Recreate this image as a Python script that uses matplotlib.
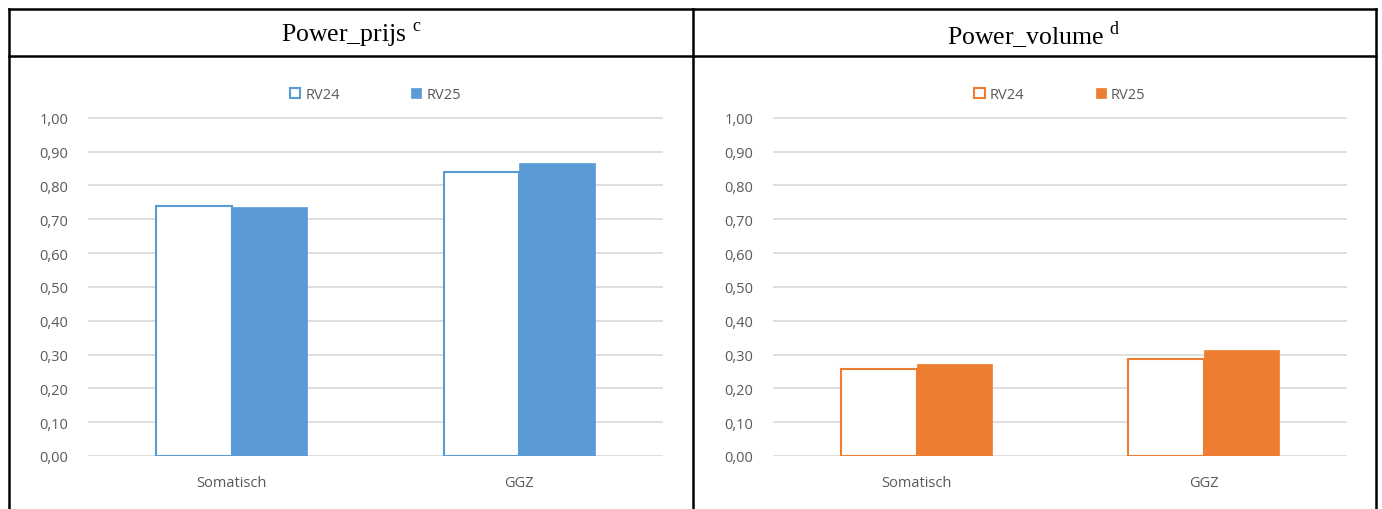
import matplotlib
matplotlib.use("Agg")
import matplotlib.pyplot as plt
from matplotlib.lines import Line2D
from matplotlib.ticker import FuncFormatter
import numpy as np

plt.rcParams['font.family'] = ['Open Sans', 'DejaVu Sans']
plt.rcParams['mathtext.fontset'] = 'custom'
plt.rcParams['mathtext.rm'] = 'Liberation Serif'

categories = ['Somatisch', 'GGZ']
series = ['RV24', 'RV25']
prijs_rv24 = [0.738, 0.838]
prijs_rv25 = [0.735, 0.865]
volume_rv24 = [0.256, 0.286]
volume_rv25 = [0.271, 0.313]
yticks = [0.0, 0.1, 0.2, 0.3, 0.4, 0.5, 0.6, 0.7, 0.8, 0.9, 1.0]

W, H = 1382, 510
fig = plt.figure(figsize=(W / 100, H / 100), dpi=100)


def px(x, y):
    # pixel (from top-left) to figure fraction
    return x / W, 1 - y / H


def draw_panel(rect, v24, v25, color):
    ax = fig.add_axes(rect)
    x = np.arange(len(categories))
    w = 0.262
    ax.bar(x - w / 2, v24, w, facecolor='white', edgecolor=color, linewidth=1.5, label=series[0], zorder=3)
    ax.bar(x + w / 2, v25, w, facecolor=color, edgecolor=color, linewidth=0.5, label=series[1], zorder=3)
    ax.set_xlim(-0.5, 1.5)
    ax.set_ylim(0, 1.002)
    ax.set_yticks(yticks)
    ax.yaxis.set_major_formatter(FuncFormatter(lambda v, p: f"{v:.2f}".replace('.', ',')))
    ax.set_xticks(x)
    ax.set_xticklabels(categories)
    ax.yaxis.grid(True, color='#d9d9d9', linewidth=1.2, zorder=0)
    ax.set_axisbelow(True)
    for s in ax.spines.values():
        s.set_visible(False)
    ax.tick_params(length=0, labelsize=10.5, labelcolor='#595959')
    ax.tick_params(axis='y', pad=14)
    ax.tick_params(axis='x', pad=14)
    ax.legend(loc='center', bbox_to_anchor=(0.5, 1.066), ncol=2, frameon=False,
              fontsize=10.5, labelcolor='#595959', handlelength=0.7, handleheight=0.7,
              handletextpad=0.35, columnspacing=4.9)
    return ax


draw_panel([88 / W, 1 - 457 / H, 575 / W, 339 / H], prijs_rv24, prijs_rv25, '#5b9bd5')
draw_panel([773 / W, 1 - 457 / H, 574 / W, 339 / H], volume_rv24, volume_rv25, '#ed7d31')

# table borders
lw = 1.8
for (x0, y0, x1, y1) in [(9, 10, 1376, 10), (9, 57, 1376, 57),
                         (9, 10, 9, 512), (693, 10, 693, 512), (1376, 10, 1376, 512)]:
    a = px(x0, y0)
    b = px(x1, y1)
    fig.add_artist(Line2D([a[0], b[0]], [a[1], b[1]], color='black', linewidth=lw))

fig.text(*px(351, 35), r'Power_prijs $^{\mathrm{c}}$', ha='center', va='center',
         fontsize=18.5, family='Liberation Serif')
fig.text(*px(1034, 35), r'Power_volume $^{\mathrm{d}}$', ha='center', va='center',
         fontsize=18.5, family='Liberation Serif')

fig.savefig('out.png', dpi=100)
